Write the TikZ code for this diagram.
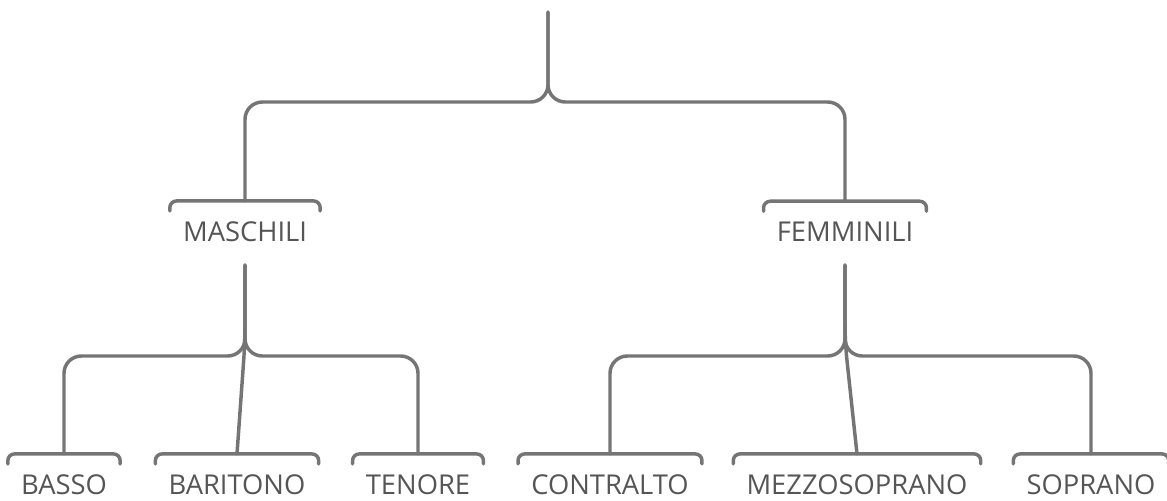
\documentclass[tikz,border=0pt]{standalone}
\usepackage{fontspec}
\setmainfont{Open Sans}
\usetikzlibrary{calc}
\definecolor{linegray}{HTML}{757575}
\definecolor{textgray}{HTML}{555555}
\tikzset{
  branch/.style = {draw=linegray, line width=2.6pt, line cap=round, rounded corners=13pt},
  bracket/.style = {draw=linegray, line width=2.6pt, line cap=round, rounded corners=5pt},
  voice/.style = {text=textgray, font=\fontsize{20.5}{24}\selectfont, inner sep=0pt, anchor=base}
}
\begin{document}
\begin{tikzpicture}[x = 0.75pt, y = -0.75pt]
	\useasboundingbox (0,0) rectangle (1167,500);
	% labels
	\node[voice] (maschili) at (245,241) {MASCHILI};
	\node[voice] (femminili) at (845,241) {FEMMINILI};
	\node[voice] (basso) at (64,494) {BASSO};
	\node[voice] (baritono) at (237,494) {BARITONO};
	\node[voice] (tenore) at (418,494) {TENORE};
	\node[voice] (contralto) at (610,494) {CONTRALTO};
	\node[voice] (mezzosoprano) at (857,494) {MEZZOSOPRANO};
	\node[voice] (soprano) at (1091,494) {SOPRANO};
	% brackets over the labels
	\foreach \n in {maschili,femminili,basso,baritono,tenore,contralto,mezzosoprano,soprano} {
		\draw[bracket] ($(\n.north west)+(-13,-10)$) -- ++(0,-10) -| ($(\n.north east)+(13,-10)$);
		\coordinate (\n-in) at ($(\n.north)+(0,-20)$);
	}
	% junctions
	\coordinate (root) at (548,12);
	\coordinate (split) at (548,102);
	\coordinate (mstem) at (245,265);
	\coordinate (msplit) at (245,356);
	\coordinate (mknee) at (245,342);
	\coordinate (fstem) at (845,265);
	\coordinate (fsplit) at (845,356);
	\coordinate (fknee) at (845,342);
	% connectors
	\draw[branch] (root) -- (split) -| (maschili-in);
	\draw[branch] (root) -- (split) -| (femminili-in);
	\draw[branch] (mstem) -- (msplit) -| (basso-in);
	\draw[branch] (mstem) -- (msplit) -| (tenore-in);
	\draw[branch] (mstem) -- (mknee) -- (baritono-in);
	\draw[branch] (fstem) -- (fsplit) -| (contralto-in);
	\draw[branch] (fstem) -- (fsplit) -| (soprano-in);
	\draw[branch] (fstem) -- (fknee) -- (mezzosoprano-in);
\end{tikzpicture}
\end{document}
